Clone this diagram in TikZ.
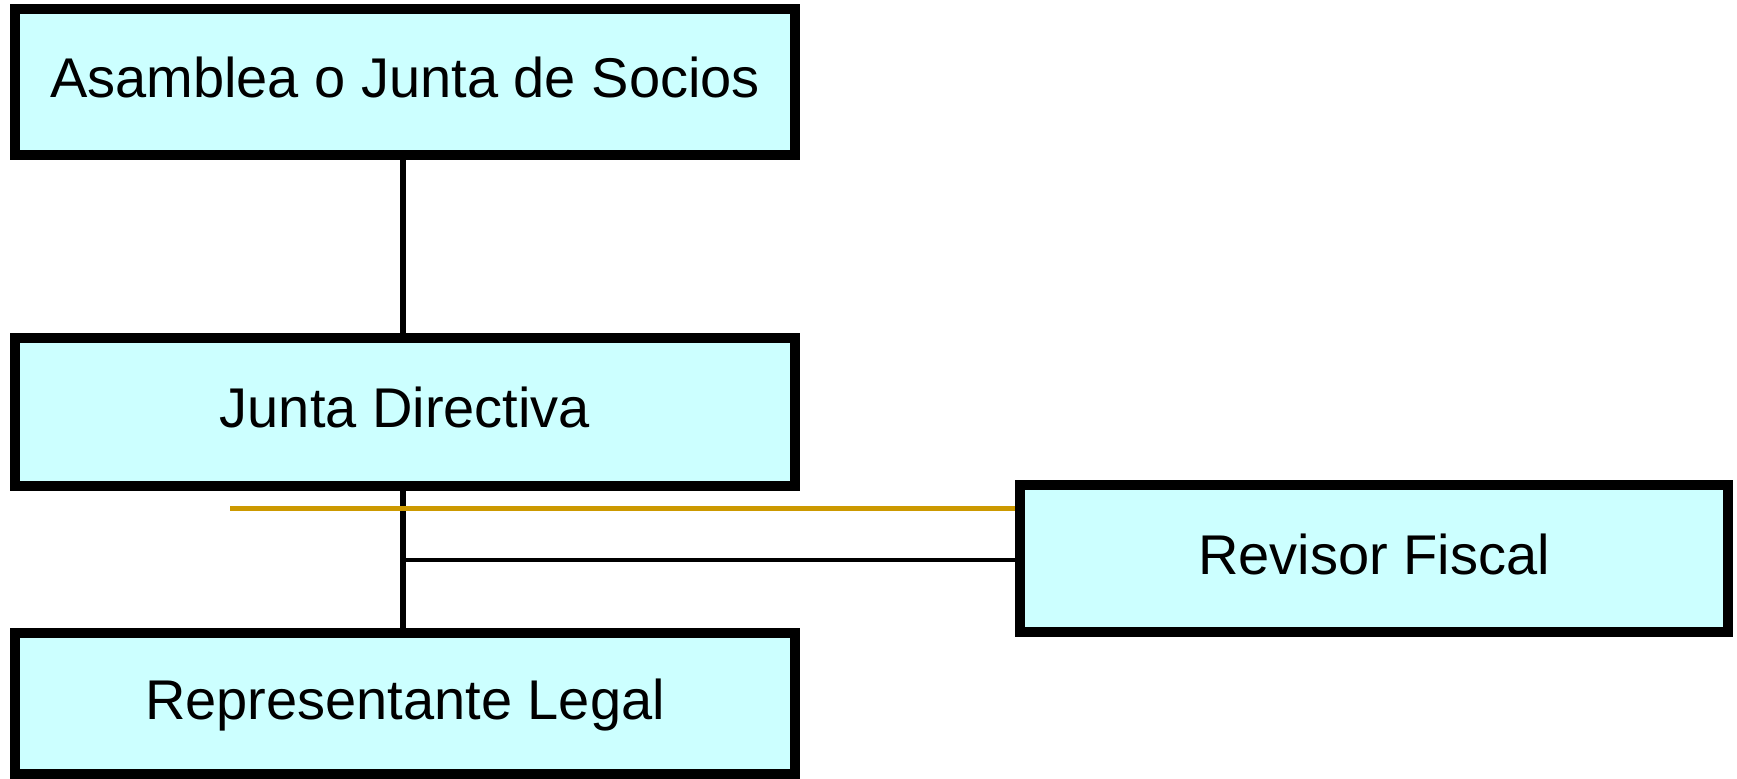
\documentclass[tikz,border=0pt]{standalone}
\usepackage{fontspec}
\setmainfont{Liberation Sans}
\definecolor{boxfill}{HTML}{CCFFFF}
\definecolor{gold}{HTML}{CC9900}
\begin{document}
\begin{tikzpicture}[x=0.5pt,y=-0.5pt,
  orgbox/.style={draw=black,line width=5pt,fill=boxfill,rectangle,inner sep=0pt,
    text height=21pt,text depth=5pt,
    font=\fontsize{28}{34}\selectfont},
  link/.style={draw=black,line width=3pt},
  thinlink/.style={draw=black,line width=2pt},
  goldlink/.style={draw=gold,line width=2.5pt}]
\useasboundingbox (0,0) rectangle (1737,779);
\fill[white] (0,0) rectangle (1737,779);
\node[orgbox,minimum width=390pt,minimum height=73pt] (b1) at (405,82) {Asamblea o Junta de Socios};
\node[orgbox,minimum width=390pt,minimum height=74pt] (b2) at (405,412) {Junta Directiva};
\node[orgbox,minimum width=354pt,minimum height=73.5pt] (b3) at (1374,558.5) {Revisor Fiscal};
\node[orgbox,minimum width=390pt,minimum height=70.5pt] (b4) at (405,703.5) {Representante Legal};
\coordinate (g0) at (230,509);
\coordinate (j) at (403,560);
\draw[link] ([xshift=-1pt]b1.south) -- ([xshift=-1pt]b2.north);
\draw[link] ([xshift=-1pt]b2.south) -- ([xshift=-1pt]b4.north);
\draw[goldlink] (g0) -- (g0 -| b3.west);
\draw[thinlink] (j) -- (j -| b3.west);
\end{tikzpicture}
\end{document}
